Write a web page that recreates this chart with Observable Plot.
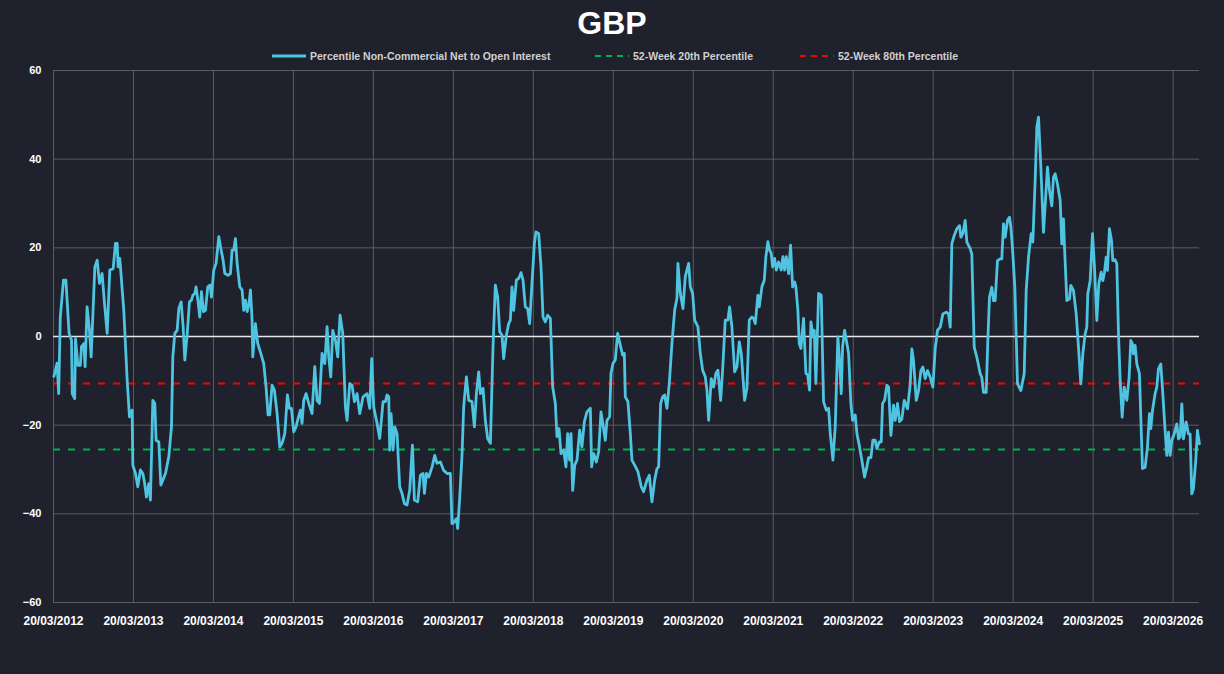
<!DOCTYPE html>
<html><head><meta charset="utf-8">
<script src="https://cdn.jsdelivr.net/npm/d3@7"></script>
<script src="https://cdn.jsdelivr.net/npm/@observablehq/plot@0.6"></script>
<style>
body{margin:0;background:#1f222d;width:1224px;height:674px;overflow:hidden;font-family:"Liberation Sans",Arial,sans-serif;}
#title{position:absolute;left:0;top:5px;width:1224px;text-align:center;color:#fff;font:bold 32px "Liberation Sans",Arial,sans-serif;}
.leg{position:absolute;top:50px;color:#d0d0d0;font:bold 10.5px "Liberation Sans",Arial,sans-serif;display:flex;align-items:center;}
.leg svg{margin-right:4px}
#chart{position:absolute;left:0;top:62px;}
</style></head><body>
<div id="title">GBP</div>
<div class="leg" style="left:272px"><svg width="34" height="6"><line x1="0" x2="34" y1="3" y2="3" stroke="#4ec4e0" stroke-width="3"/></svg>Percentile Non-Commercial Net to Open Interest</div>
<div class="leg" style="left:595px"><svg width="34" height="6"><line x1="0" x2="34" y1="3" y2="3" stroke="#00b050" stroke-width="2" stroke-dasharray="6 5"/></svg>52-Week 20th Percentile</div>
<div class="leg" style="left:800px"><svg width="34" height="6"><line x1="0" x2="34" y1="3" y2="3" stroke="#ff0000" stroke-width="2" stroke-dasharray="6 5"/></svg>52-Week 80th Percentile</div>
<div id="chart"></div>
<script>
// decimal-year time axis (0 offset = 20/03/2012)
const years = [2012,2013,2014,2015,2016,2017,2018,2019,2020,2021,2022,2023,2024,2025,2026];
const tickLabels = years.map(y => "20/03/" + y);
const p20 = -25.5;
const p80 = -10.6;
const t = [
2012.22,2012.26,2012.28,2012.30,2012.34,2012.37,2012.41,2012.44,2012.45,2012.48,2012.49,2012.52,2012.55,2012.565,2012.595,2012.61,2012.635,2012.665,2012.686,2012.732,2012.761,2012.79,2012.823,2012.853,2012.886,2012.919,2012.961,2012.99,2013.011,2013.023,2013.044,2013.094,2013.136,2013.165,2013.198,2013.207,2013.24,2013.269,2013.302,2013.332,2013.352,2013.377,2013.406,2013.427,2013.457,2013.482,2013.498,2013.532,2013.557,2013.582,2013.615,2013.657,2013.69,2013.707,2013.732,2013.761,2013.782,2013.811,2013.836,2013.857,2013.886,2013.915,2013.94,2013.957,2013.982,2013.998,2014.023,2014.044,2014.065,2014.09,2014.115,2014.144,2014.173,2014.19,2014.219,2014.248,2014.282,2014.311,2014.336,2014.357,2014.398,2014.428,2014.448,2014.469,2014.49,2014.511,2014.544,2014.573,2014.594,2014.615,2014.636,2014.657,2014.678,2014.698,2014.707,2014.74,2014.769,2014.802,2014.844,2014.873,2014.898,2014.919,2014.948,2014.977,2015.011,2015.044,2015.073,2015.107,2015.14,2015.165,2015.19,2015.219,2015.248,2015.273,2015.302,2015.323,2015.344,2015.373,2015.407,2015.448,2015.482,2015.511,2015.54,2015.573,2015.607,2015.636,2015.657,2015.682,2015.707,2015.74,2015.769,2015.798,2015.832,2015.865,
2015.886,2015.919,2015.948,2015.978,2016.011,2016.044,2016.086,2016.136,2016.169,2016.194,2016.219,2016.261,2016.294,2016.336,2016.365,2016.386,2016.407,2016.419,2016.436,2016.461,2016.482,2016.511,2016.544,2016.573,2016.603,2016.636,2016.669,2016.703,2016.728,2016.769,2016.803,2016.836,2016.853,2016.878,2016.907,2016.949,2016.982,2017.011,2017.053,2017.094,2017.136,2017.178,2017.198,2017.228,2017.253,2017.269,2017.295,2017.324,2017.344,2017.378,2017.407,2017.448,2017.478,2017.503,2017.532,2017.553,2017.586,2017.615,2017.644,2017.678,2017.711,2017.74,2017.769,2017.794,2017.823,2017.844,2017.878,2017.907,2017.928,2017.948,2017.969,2018.003,2018.032,2018.061,2018.086,2018.115,2018.144,2018.169,2018.198,2018.228,2018.248,2018.282,2018.311,2018.336,2018.365,2018.394,2018.428,2018.457,2018.49,2018.511,2018.536,2018.561,2018.594,2018.623,2018.644,2018.669,2018.686,2018.707,2018.732,2018.761,2018.794,2018.823,2018.853,2018.886,2018.928,2018.944,2018.969,2019.003,2019.032,2019.061,2019.094,2019.115,2019.136,2019.169,2019.186,2019.211,2019.24,2019.269,2019.303,2019.332,2019.353,2019.365,2019.398,2019.428,
2019.448,2019.482,2019.523,2019.565,2019.594,2019.636,2019.665,2019.698,2019.732,2019.761,2019.782,2019.807,2019.832,2019.857,2019.886,2019.915,2019.948,2019.982,2020.011,2020.023,2020.053,2020.086,2020.115,2020.157,2020.178,2020.207,2020.232,2020.273,2020.303,2020.332,2020.365,2020.386,2020.407,2020.44,2020.469,2020.498,2020.523,2020.557,2020.582,2020.615,2020.648,2020.669,2020.698,2020.732,2020.761,2020.79,2020.815,2020.857,2020.886,2020.915,2020.948,2020.969,2020.99,2021.023,2021.04,2021.073,2021.103,2021.123,2021.148,2021.169,2021.19,2021.207,2021.232,2021.253,2021.282,2021.315,2021.336,2021.357,2021.378,2021.407,2021.432,2021.457,2021.482,2021.498,2021.523,2021.54,2021.561,2021.594,2021.623,2021.644,2021.669,2021.686,2021.711,2021.728,2021.748,2021.782,2021.815,2021.844,2021.878,2021.907,2021.928,2021.961,2021.99,2022.023,2022.044,2022.065,2022.082,2022.107,2022.128,2022.157,2022.186,2022.207,2022.24,2022.261,2022.294,2022.323,2022.357,2022.386,2022.407,2022.436,2022.461,2022.49,2022.511,2022.54,2022.565,2022.582,2022.607,2022.636,2022.657,2022.686,2022.719,2022.74,2022.769,2022.794,
2022.823,2022.853,2022.894,2022.928,2022.948,2022.969,2023.003,2023.032,2023.061,2023.086,2023.115,2023.144,2023.178,2023.211,2023.24,2023.269,2023.303,2023.336,2023.378,2023.407,2023.428,2023.448,2023.478,2023.511,2023.544,2023.561,2023.586,2023.615,2023.636,2023.678,2023.698,2023.728,2023.761,2023.803,2023.823,2023.844,2023.878,2023.898,2023.919,2023.948,2023.969,2023.99,2024.019,2024.053,2024.073,2024.094,2024.115,2024.144,2024.169,2024.186,2024.207,2024.236,2024.269,2024.311,2024.353,2024.378,2024.407,2024.44,2024.461,2024.49,2024.511,2024.532,2024.561,2024.594,2024.619,2024.644,2024.669,2024.698,2024.719,2024.74,2024.769,2024.803,2024.823,2024.844,2024.857,2024.886,2024.919,2024.936,2024.969,2025.003,2025.032,2025.061,2025.086,2025.115,2025.136,2025.148,2025.178,2025.207,2025.232,2025.261,2025.286,2025.315,2025.336,2025.357,2025.378,2025.394,2025.419,2025.444,2025.461,2025.49,2025.511,2025.532,2025.553,2025.578,2025.603,2025.636,2025.665,2025.686,2025.707,2025.719,2025.74,2025.761,2025.794,2025.811,2025.832,2025.865,2025.894,2025.919,2025.936,2025.957,2025.99,2026.011,2026.032,2026.061,2026.086,2026.115,2026.136,2026.157,2026.178,2026.198,2026.228,2026.261,2026.282,2026.303,2026.324,2026.344,2026.378,2026.407,2026.428,2026.448,2026.469,2026.498,2026.519,2026.544];
const v = [
-9,-6,-12.9,4.4,12.7,12.7,0.7,-0.8,-12.9,-14,-0.5,-6.5,-6.5,-2.3,-1.6,-6.8,6.7,1.4,-4.6,15.7,17.2,12,14.2,7.4,0.7,15,15.3,21,21,15.7,17.6,5.9,-9.8,-18.1,-16.6,-29,-30.9,-33.9,-30.1,-30.9,-32.8,-36.2,-33.2,-36.9,-14.4,-15.1,-23.4,-23.8,-33.5,-32.4,-30.9,-27.1,-20.4,-4.6,0.7,1.4,6.3,7.8,2.2,-5.3,0.3,7.8,8.2,9.3,9.7,11.2,7.8,4.4,10.1,5.6,5.9,11.2,11.6,8.9,15,16.5,22.5,19.5,17.2,14.2,13.8,14.2,19.5,19.5,22.1,16.5,11.2,10.5,5.9,8.2,5.6,7.1,10.5,3.7,-4.6,2.9,-1.6,-3.5,-6.1,-11.4,-17.7,-17.7,-11,-12.1,-17.4,-24.9,-24.1,-21.9,-13.2,-16.2,-16.2,-21.5,-20.4,-18.5,-16.6,-19.6,-14.4,-12.9,-15.1,-17.4,-6.8,-14.4,-15.1,-3.8,-6.1,2.2,-4.6,-9.1,1.4,-0.8,-4.6,4.8,0.7,-15.9,
-18.9,-10.6,-11,-14.7,-12.9,-17.4,-13.6,-12.9,-16.2,-5,-15.9,-19.6,-23,-14.7,-14.7,-13.2,-13.6,-25.6,-17.4,-25.6,-20.4,-21.9,-33.9,-35.4,-37.7,-38,-34.7,-24.5,-36.9,-37.3,-31.3,-30.9,-35.4,-30.9,-31.7,-29.4,-26.8,-28.6,-28.3,-30.2,-30.9,-30.9,-42.2,-41.8,-41.1,-43.3,-36.2,-26.4,-15.9,-9.1,-14.4,-14.7,-20.4,-12.9,-8,-12.9,-11.7,-18.9,-23,-24.1,-2.3,11.6,8.9,1.1,0.3,-5,0.3,2.9,3.7,11.2,5.9,12.7,13.1,14.4,12.7,6.7,6.3,2.9,12,21,23.6,23.2,15.7,4.4,3.3,4.8,4.1,-11.4,-15.1,-22.6,-20.8,-26.4,-25.6,-29.4,-21.9,-27.9,-21.9,-34.7,-29,-27.9,-21.1,-24.9,-19.2,-17,-16.2,-29.4,-26.4,-28.3,-26,-17,-20.8,-23.4,-18.9,-18.1,-8.3,-6.1,-5.3,0.7,-2,-4.2,-3.8,-13.6,-14.7,-21.9,
-27.9,-29,-30.5,-33.9,-35,-32.4,-31.3,-37.3,-32.4,-29.8,-29.4,-15.1,-13.6,-13.2,-16.2,-10.6,-1.6,5.9,8.6,16.5,9.7,6.3,13.5,16.5,11.2,9.7,3.7,2.2,-3.8,-7.6,-9.1,-12.1,-18.9,-9.5,-11.4,-8.3,-7.6,-14.4,-7.6,3.7,3.7,6.7,2.2,-8,-6.8,-1.2,-3.8,-14.4,-11.7,3.7,4.4,4.1,2.9,9.3,6.7,11.2,12.7,18,21.4,19.5,18.7,15.7,17.6,15,16.8,15,18,15,18,14.2,20.6,11.2,12.3,11.2,5.9,-1.6,-2.7,4.1,-8.3,-8.6,-12.1,3.3,-0.1,1.4,-10.6,9.7,9.3,-14.7,-16.6,-16.2,-21.9,-27.9,-20.4,-0.1,-5.3,-12.9,-2.3,1.4,-0.8,-3.8,-15.1,-18.9,-17.7,-21.9,-24.9,-27.9,-31.7,-29.4,-27.3,-27.3,-23.4,-23.4,-25.3,-23.8,-23.8,-15.1,-14.4,-11,-11.4,-22.3,-15.5,-18.9,-15.1,-19.2,
-18.6,-14.4,-16.3,-10.7,-2.8,-5.4,-14.4,-12.2,-7.7,-6.9,-9.5,-7.7,-9.2,-11.4,-2.8,1.4,2.1,5.1,5.5,5.1,2.1,20.9,22.8,24.3,25,22.4,23.2,26.2,21.3,19.8,18.6,-2.4,-4.7,-8.4,-9.2,-12.6,-12.6,-0.9,8.9,11.1,8.1,8.1,17.1,17.5,17.5,25.4,22.4,26.2,26.9,24.7,19.8,11.1,-10.7,-12.2,-8.4,10.4,17.9,23.2,21.3,35.2,47.2,49.5,38.2,23.5,30.7,38.2,32.9,29.5,35.9,36.7,34.4,30.7,20.9,26.5,20.2,8.1,8.5,11.5,10.4,5.1,-2.4,-10.7,-3.9,0.6,2.1,9.6,12.6,23.2,15.6,3.6,11.9,14.5,12.6,14.5,17.9,14.9,24.3,21.7,17.1,17.3,16.4,0.6,-9.9,-18.2,-11.4,-14.4,-9.2,-0.9,-1.7,-3.9,-2,-6.2,-8.4,-18.2,-29.8,-29.5,-25,-17.4,-20.8,-16.7,-12.9,-11.4,-7.3,-6.2,-12.9,-21.2,-26.8,-21.6,-26.8,-23.5,-22,-19.7,-23.1,-22.7,-15.2,-23.1,-19.3,-22,-22,-35.5,-34.4,-28,-21.2,-24.2];

const start = 2012.215;
const data = t.map((x, i) => ({x, y: v[i]}));
const tickPos = years.map(y => start + (y - 2012));
const yTicks = [-60,-40,-20,0,20,40,60];
const font = '"Liberation Sans",Arial,sans-serif';

const plot = Plot.plot({
  width: 1224, height: 612,
  marginLeft: 53, marginRight: 25, marginTop: 8, marginBottom: 72,
  style: {background: "transparent", color: "#fff", fontFamily: font, fontWeight: "bold", fontSize: "11px"},
  x: {type: "linear", domain: [start, 2026.545], ticks: tickPos, tickFormat: d => "20/03/" + Math.round(d - start + 2012), tickSize: 0, label: null},
  y: {domain: [-60, 60], ticks: yTicks, tickSize: 0, label: null},
  marks: [
    Plot.ruleX(tickPos, {stroke: "#5c5c5c", strokeWidth: 1}),
    Plot.ruleY(yTicks.filter(d => d !== 0), {stroke: "#5c5c5c", strokeWidth: 1, x1: start, x2: 2026.545}),
    Plot.ruleY([0], {stroke: "#e8e8e8", strokeWidth: 1.3}),
    Plot.ruleY([p20], {stroke: "#00b050", strokeWidth: 2, strokeDasharray: "7 8"}),
    Plot.ruleY([p80], {stroke: "#ff0000", strokeWidth: 2, strokeDasharray: "7 8"}),
    Plot.line(data, {x: "x", y: "y", stroke: "#4ec4e0", strokeWidth: 2.8, curve: "linear"}),
    Plot.axisX({ticks: tickPos, tickFormat: d => "20/03/" + Math.round(d - start + 2012), tickSize: 0, tickPadding: 14, fontSize: 12, fontWeight: "bold"}),
    Plot.axisY({ticks: yTicks, tickSize: 0, tickPadding: 12, fontSize: 11, fontWeight: "bold"})
  ]
});
document.getElementById("chart").appendChild(plot);
</script>
</body></html>
